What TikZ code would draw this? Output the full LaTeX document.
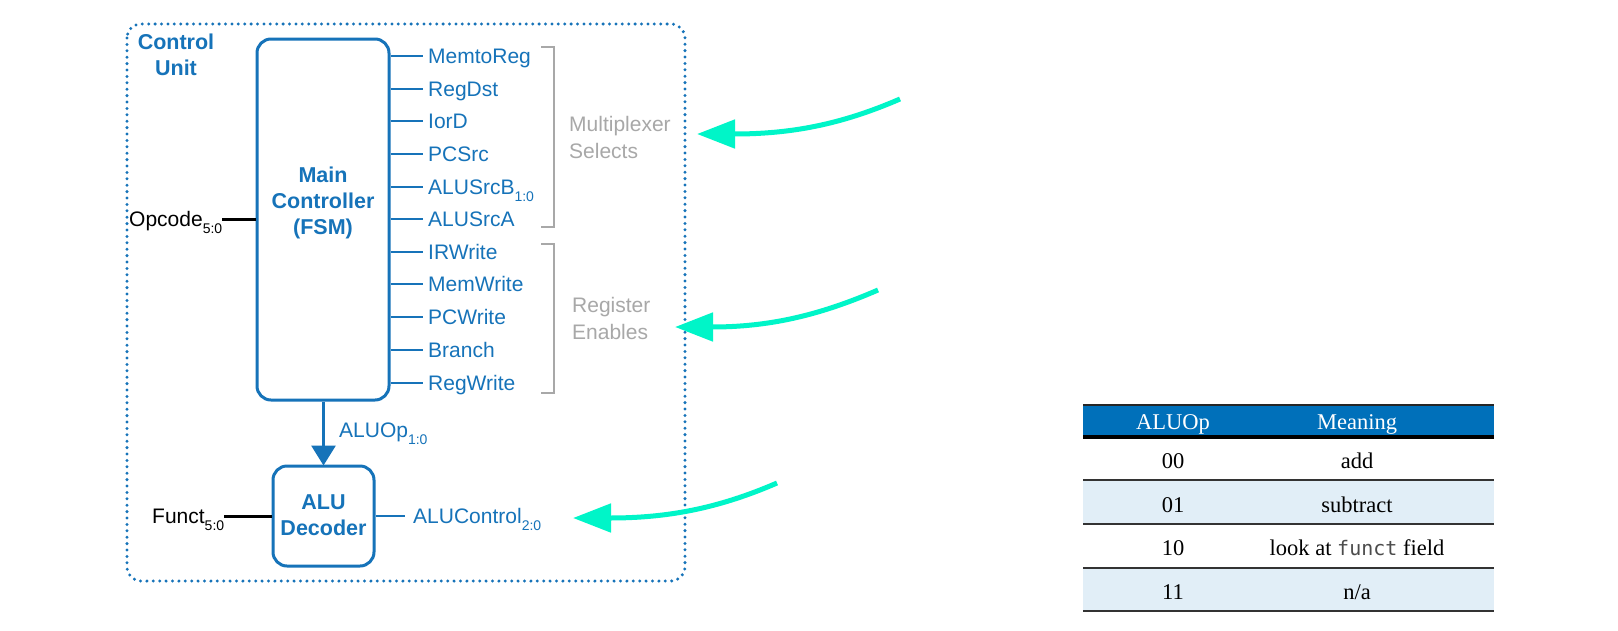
\documentclass[tikz,border=0pt]{standalone}
\usepackage{fontspec}
\setmainfont{Liberation Serif}
\setsansfont{Liberation Sans}
\setmonofont{DejaVu Sans Mono}
\usetikzlibrary{arrows.meta}
\definecolor{cublue}{RGB}{22,115,185}
\definecolor{brgray}{RGB}{168,168,168}
\definecolor{cyanarr}{RGB}{0,245,200}
\definecolor{hdrblue}{RGB}{0,112,186}
\definecolor{rowblue}{RGB}{225,238,247}
\newcommand{\sbs}[1]{\raisebox{-0.33em}{\fontsize{14}{14}\selectfont #1}}
\tikzset{
  sig/.style={font=\sffamily\fontsize{21}{26}\selectfont, text=cublue, anchor=base west, inner sep=0pt},
  blk/.style={font=\sffamily\fontsize{21}{26}\selectfont, text=black, anchor=base west, inner sep=0pt},
  ttl/.style={font=\sffamily\bfseries\fontsize{21.5}{26}\selectfont, text=cublue, align=center, inner sep=0pt},
  grey/.style={font=\sffamily\fontsize{21}{27}\selectfont, text=brgray, align=left, anchor=west, inner sep=0pt},
  box/.style={draw=cublue, line width=3pt, rounded corners=14pt, inner sep=0pt},
  sigline/.style={draw=cublue, line width=2.5pt},
  inline/.style={draw=black, line width=3pt},
  bracket/.style={draw=brgray, line width=2.5pt},
  cyanarrow/.style={draw=cyanarr, line width=5pt, -{Triangle[length=38pt, width=28pt]}},
  tbl/.style={font=\fontsize{22.5}{24}\selectfont, anchor=base, inner sep=0pt},
}
\begin{document}
\begin{tikzpicture}[x=1pt, y=-1pt]
\useasboundingbox (0,0) rectangle (1618,630);
\fill[white] (0,0) rectangle (1618,630);

% control unit dotted frame
\draw[cublue, line width=3.3pt, dash pattern=on 0pt off 6.4pt, line cap=round, rounded corners=14pt] (127,24) rectangle (685,581);
\node[ttl] (cu) at (176,55) {Control\\Unit};

% main controller
\node[box, minimum width=132pt, minimum height=361pt] (main) at (323,219.5) {};
\node[ttl] (maintxt) at (323,203) {Main\\Controller\\(FSM)};

% outputs
\node[sig] (o1) at (428,63.5) {MemtoReg};
\node[sig] (o2) at (428,96.5) {RegDst};
\node[sig] (o3) at (428,128.5) {IorD};
\node[sig] (o4) at (428,161.5) {PCSrc};
\node[sig] (o5) at (428,194.5) {ALUSrcB\sbs{1:0}};
\node[sig] (o6) at (428,226.5) {ALUSrcA};
\node[sig] (o7) at (428,259.5) {IRWrite};
\node[sig] (o8) at (428,291.5) {MemWrite};
\node[sig] (o9) at (428,324.5) {PCWrite};
\node[sig] (o10) at (428,357.5) {Branch};
\node[sig] (o11) at (428,390.5) {RegWrite};
\foreach \i/\y in {1/56,2/89,3/121,4/154,5/187,6/219,7/252,8/284,9/317,10/350,11/383}{
  \draw[sigline] (main.east |- 0,\y) -- ([xshift=-5pt]o\i.west |- 0,\y);
}

% brackets
\draw[bracket] (541,47) -- (554,47) -- (554,227) -- (541,227);
\draw[bracket] (541,244) -- (554,244) -- (554,393) -- (541,393);
\node[grey] (mux) at (569,137) {Multiplexer\\Selects};
\node[grey] (reg) at (572,318) {Register\\Enables};

% opcode
\node[blk] (opc) at (129,226.5) {Opcode\sbs{5:0}};
\draw[inline] (opc.east |- main.west) -- (main.west);

% ALU decoder
\node[box, minimum width=101pt, minimum height=100pt] (dec) at (323.5,516) {};
\node[ttl] (dectxt) at (323.5,515) {ALU\\Decoder};
\draw[cublue, line width=3pt, -{Triangle[length=20pt, width=24pt]}] (main.south -| dec.north) -- ([yshift=-1pt]dec.north);
\node[sig] (aluop) at (339,437.5) {ALUOp\sbs{1:0}};

\node[blk] (funct) at (152,523.5) {Funct\sbs{5:0}};
\draw[inline] (funct.east |- dec.west) -- (dec.west);
\node[sig] (aluc) at (413,523.5) {ALUControl\sbs{2:0}};
\draw[sigline] (dec.east) -- ([xshift=-8pt]aluc.west |- dec.east);

% cyan arrows
\coordinate (a1s) at (900,99);  \coordinate (a1t) at (697,134);
\coordinate (a2s) at (878,290); \coordinate (a2t) at (675,327);
\coordinate (a3s) at (777,483); \coordinate (a3t) at (573,518);
\draw[cyanarrow] (a1s) .. controls (840,125) and (790,134) .. (a1t);
\draw[cyanarrow] (a2s) .. controls (818,316) and (768,327) .. (a2t);
\draw[cyanarrow] (a3s) .. controls (717,509) and (666,518) .. (a3t);

% table
\fill[hdrblue] (1083,405) rectangle (1494,437);
\fill[rowblue] (1083,480) rectangle (1494,524);
\fill[rowblue] (1083,568) rectangle (1494,611);
\draw[black!85, line width=2pt] (1083,405) -- (1494,405);
\draw[black, line width=3.5pt] (1083,437) -- (1494,437);
\foreach \y in {480,524,568,611}{
  \draw[black!80, line width=2pt] (1083,\y) -- (1494,\y);
}
\node[tbl, text=white] (h1) at (1173,429) {ALUOp};
\node[tbl, text=white] (h2) at (1357,429) {Meaning};
\node[tbl] (r1a) at (1173,468) {00};
\node[tbl] (r1b) at (1357,468) {add};
\node[tbl] (r2a) at (1173,512) {01};
\node[tbl] (r2b) at (1357,512) {subtract};
\node[tbl] (r3a) at (1173,555) {10};
\node[tbl] (r3b) at (1357,555) {look at {\ttfamily\fontsize{20}{24}\selectfont\color{black!70}funct} field};
\node[tbl] (r4a) at (1173,599) {11};
\node[tbl] (r4b) at (1357,599) {n/a};
\end{tikzpicture}
\end{document}
